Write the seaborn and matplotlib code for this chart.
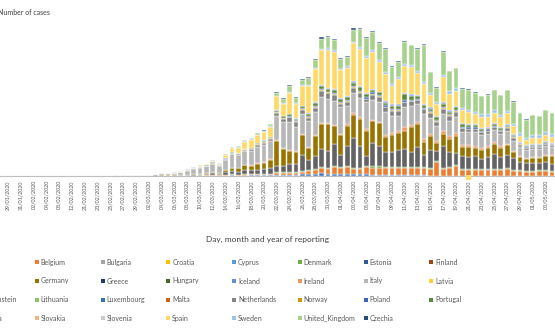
import numpy as np
import pandas as pd
import matplotlib
matplotlib.use("Agg")
import matplotlib.pyplot as plt
from matplotlib.patches import Rectangle
import seaborn as sns

# ---------------- data ----------------
early_dates = ["28/01/2020", "29/01/2020", "30/01/2020", "31/01/2020", "01/02/2020",
               "02/02/2020", "03/02/2020", "04/02/2020", "06/02/2020", "08/02/2020",
               "10/02/2020", "12/02/2020", "17/02/2020", "21/02/2020", "22/02/2020",
               "23/02/2020", "24/02/2020", "25/02/2020", "26/02/2020", "27/02/2020",
               "28/02/2020", "29/02/2020"]
main_dates = list(pd.date_range("2020-03-01", "2020-05-04").strftime("%d/%m/%Y"))

# early period (28/01 .. 29/02), cases
italy_early = [0, 0, 0, 2, 0, 0, 0, 0, 0, 0, 0, 0, 0, 17, 42, 93, 74, 93, 131, 202, 233, 240]
germany_early = [1, 3, 0, 1, 1, 2, 2, 2, 1, 0, 2, 0, 0, 0, 0, 0, 0, 0, 4, 20, 26, 57]
france_early = [0, 0, 1, 0, 0, 0, 0, 0, 0, 5, 0, 0, 0, 0, 0, 0, 0, 2, 2, 4, 20, 43]
spain_early = [0, 0, 0, 0, 1, 0, 0, 0, 0, 1, 0, 0, 0, 0, 0, 0, 0, 2, 6, 7, 12, 32]

# 01/03 .. 04/05, cases
austria = [0, 5, 5, 10, 10, 15, 25, 25, 50, 50, 80, 75, 75, 100, 150, 125, 125, 250, 250, 250,
           250, 375, 375, 375, 375, 500, 500, 500, 750, 500, 500, 500, 500, 500, 500, 500, 375, 375, 250, 250,
           250, 250, 250, 250, 200, 125, 125, 125, 125, 125, 100, 100, 80, 80, 80, 80, 75, 75, 75, 50,
           50, 50, 50, 50, 50]
belgium = [0, 0, 2, 5, 10, 20, 30, 25, 40, 60, 50, 80, 60, 170, 200, 150, 250, 250, 250, 250,
           250, 500, 500, 500, 500, 625, 750, 1000, 1250, 1250, 1750, 1500, 1750, 1250, 1250, 1750, 1750, 1750, 1750, 1750,
           1750, 1750, 1750, 1750, 1750, 1750, 3500, 1750, 2000, 2500, 1500, 1500, 1500, 1500, 1500, 1500, 1500, 1750, 1250, 1250,
           1000, 1000, 1250, 1250, 1000]
denmark = [1, 2, 5, 5, 10, 10, 15, 20, 30, 90, 200, 100, 100, 60, 30, 60, 80, 100, 100, 100,
           100, 100, 100, 100, 150, 150, 150, 200, 150, 200, 250, 300, 300, 300, 300, 300, 300, 300, 300, 300,
           250, 250, 200, 200, 200, 250, 250, 200, 200, 200, 150, 150, 150, 150, 150, 150, 150, 150, 150, 150,
           150, 150, 150, 150, 100]
france = [12, 25, 50, 75, 75, 75, 100, 125, 150, 250, 175, 375, 250, 750, 750, 750, 1000, 1000, 1000, 1250,
          1500, 1625, 1625, 2000, 2000, 4000, 2500, 3250, 4500, 4250, 5500, 3000, 5000, 7500, 5500, 2500, 5750, 5000, 3750, 3750,
          4250, 4500, 3750, 5000, 3000, 4500, 2500, 5500, 3750, 3000, 3250, 3000, 3250, 2500, 3000, 3750, 3000, 3250, 3000, 2000,
          2000, 2000, 1750, 2000, 1750]
germany = [12, 25, 50, 75, 75, 50, 75, 125, 150, 150, 250, 375, 250, 500, 750, 1000, 1250, 1000, 1500, 1500,
           2000, 6250, 4250, 3250, 3000, 5000, 3000, 5000, 6250, 6750, 4500, 5000, 5000, 5750, 6750, 6250, 5500, 5750, 3750, 4250,
           4250, 4500, 6250, 5750, 3250, 3500, 2000, 3000, 3250, 4250, 2250, 2500, 2000, 2250, 2250, 2500, 2250, 2500, 1500, 1250,
           1000, 1250, 1250, 1500, 2000]
ireland = [0, 0, 1, 1, 2, 5, 5, 2, 5, 10, 10, 10, 20, 20, 30, 20, 50, 75, 100, 125,
           100, 125, 125, 200, 200, 250, 250, 300, 300, 250, 300, 300, 400, 400, 400, 350, 400, 350, 400, 500,
           500, 1000, 500, 500, 750, 500, 500, 750, 750, 750, 500, 500, 500, 500, 500, 500, 500, 400, 400, 400,
           300, 250, 250, 300, 250]
italy = [200, 180, 350, 500, 500, 550, 700, 1050, 1380, 1500, 1620, 2000, 1750, 2500, 3500, 3250, 3500, 3500, 4000, 4250,
         4500, 6000, 6500, 7000, 6000, 5000, 6500, 5750, 6500, 6000, 6000, 6750, 4500, 5000, 4750, 6750, 5000, 5000, 5750, 4250,
         3750, 5000, 4750, 4500, 6250, 4000, 3750, 4250, 3750, 4000, 3250, 3250, 3500, 3250, 3000, 3000, 3000, 3250, 2500, 2250,
         2000, 2000, 2000, 2250, 2000]
netherlands = [2, 5, 10, 15, 20, 40, 60, 60, 75, 75, 75, 125, 125, 150, 250, 250, 250, 500, 500, 500,
               500, 750, 750, 1250, 1250, 1000, 750, 1000, 1500, 1500, 1500, 750, 1000, 1250, 1250, 750, 1250, 1250, 1250, 1250,
               1250, 1250, 1250, 1000, 1250, 1250, 1000, 1250, 1250, 1250, 1000, 750, 750, 750, 750, 750, 750, 750, 750, 500,
               500, 500, 500, 500, 500]
norway = [0, 5, 10, 20, 30, 40, 50, 60, 70, 80, 150, 200, 100, 100, 100, 100, 150, 150, 200, 200,
          200, 250, 250, 200, 250, 250, 250, 250, 300, 200, 200, 250, 200, 250, 250, 200, 200, 150, 150, 150,
          150, 100, 100, 100, 100, 100, 100, 100, 100, 100, 80, 80, 80, 70, 70, 60, 60, 50, 50, 50,
          50, 40, 40, 40, 30]
poland = [0, 0, 0, 1, 0, 3, 4, 3, 2, 6, 5, 20, 20, 30, 40, 50, 40, 50, 100, 150,
          100, 100, 150, 150, 200, 200, 250, 250, 250, 200, 250, 250, 250, 300, 350, 450, 400, 300, 350, 350,
          400, 350, 300, 300, 300, 300, 350, 400, 300, 350, 250, 300, 350, 300, 350, 300, 300, 300, 250, 250,
          300, 300, 300, 250, 200]
portugal = [0, 2, 0, 2, 3, 4, 8, 9, 10, 20, 20, 30, 25, 70, 100, 80, 100, 150, 200, 250,
            250, 300, 300, 400, 400, 500, 600, 700, 750, 750, 750, 600, 800, 800, 850, 650, 500, 700, 650, 800,
            800, 1500, 1000, 600, 650, 600, 650, 750, 650, 650, 550, 500, 500, 400, 400, 350, 300, 200, 250, 200,
            200, 200, 250, 200, 200]
romania = [0, 1, 0, 0, 0, 2, 0, 2, 8, 2, 5, 4, 13, 19, 30, 20, 30, 50, 60, 70,
           60, 70, 80, 140, 150, 150, 200, 250, 200, 250, 300, 250, 300, 350, 400, 300, 250, 200, 350, 350,
           400, 350, 300, 350, 300, 350, 300, 350, 400, 300, 300, 350, 300, 300, 300, 250, 250, 250, 250, 200,
           200, 250, 250, 200, 200]
spain = [12, 25, 50, 55, 60, 60, 75, 100, 150, 200, 250, 375, 250, 750, 1000, 1250, 1750, 2000, 2000, 2000,
         2500, 3500, 3000, 5250, 3500, 5000, 6750, 8250, 8750, 9500, 9250, 7000, 7000, 9500, 9250, 8750, 9250, 7500, 6750, 4500,
         6250, 6750, 6750, 5500, 5000, 3000, 3000, 6250, 4000, 3750, 3250, 3000, 2500, 2750, 2500, 2500, 2500, 2750, 2000, 1500,
         1250, 1500, 1500, 1500, 1500]
sweden = [0, 5, 5, 10, 20, 30, 40, 50, 70, 100, 100, 150, 100, 150, 100, 100, 100, 100, 100, 150,
          150, 150, 150, 200, 250, 250, 250, 300, 400, 400, 400, 400, 400, 450, 500, 500, 600, 500, 500, 600,
          600, 550, 500, 500, 500, 500, 500, 600, 700, 700, 600, 600, 600, 700, 700, 700, 650, 600, 700, 700,
          600, 650, 600, 700, 700]
united_kingdom = [5, 10, 10, 20, 30, 40, 50, 60, 60, 70, 80, 120, 100, 200, 250, 250, 250, 250, 300, 300,
                  500, 750, 1000, 1375, 1250, 1250, 1750, 2000, 2500, 2750, 2500, 2500, 2250, 3000, 4500, 4500, 4500, 4250, 5750, 4250,
                  3750, 5500, 5000, 5500, 9250, 5250, 3500, 5750, 5000, 5000, 4750, 5000, 4750, 4500, 4750, 5000, 5000, 5250, 5500, 5000,
                  4500, 5000, 4750, 5500, 5250]
czechia = [0, 3, 0, 2, 3, 4, 7, 12, 5, 10, 20, 40, 50, 50, 70, 100, 100, 100, 120, 150,
           150, 200, 250, 250, 250, 250, 300, 300, 300, 300, 250, 250, 300, 300, 300, 250, 200, 200, 200, 200,
           200, 150, 150, 150, 150, 150, 100, 100, 100, 100, 100, 100, 100, 100, 100, 80, 80, 80, 80, 60,
           60, 60, 60, 50, 50]

countries = ["Austria", "Belgium", "Bulgaria", "Croatia", "Cyprus", "Denmark", "Estonia", "Finland",
             "France", "Germany", "Greece", "Hungary", "Iceland", "Ireland", "Italy", "Latvia",
             "Liechtenstein", "Lithuania", "Luxembourg", "Malta", "Netherlands", "Norway", "Poland", "Portugal",
             "Romania", "Slovakia", "Slovenia", "Spain", "Sweden", "United_Kingdom", "Czechia"]
colors = ["#4472C4", "#ED7D31", "#A5A5A5", "#FFC000", "#5B9BD5", "#70AD47", "#2E5C9A", "#9E480E",
          "#636363", "#997300", "#1F3864", "#43682B", "#698ED0", "#F1975A", "#B7B7B7", "#FFCD33",
          "#7CAFDD", "#8CC168", "#2E75B6", "#D26012", "#848484", "#CC9A00", "#3F64B5", "#5A8A39",
          "#8FAADC", "#F4B183", "#C9C9C9", "#FFD966", "#9DC3E6", "#A9D18E", "#1F4E79"]

# ---------------- long table ----------------
dates = early_dates + main_dates
n_early = len(early_dates)
zero_early = [0] * n_early
series = {
    "Austria": zero_early + austria,
    "Belgium": zero_early + belgium,
    "Denmark": zero_early + denmark,
    "France": france_early + france,
    "Germany": germany_early + germany,
    "Ireland": zero_early + ireland,
    "Italy": italy_early + italy,
    "Netherlands": zero_early + netherlands,
    "Norway": zero_early + norway,
    "Poland": zero_early + poland,
    "Portugal": zero_early + portugal,
    "Romania": zero_early + romania,
    "Spain": spain_early + spain,
    "Sweden": zero_early + sweden,
    "United_Kingdom": zero_early + united_kingdom,
    "Czechia": zero_early + czechia,
}
rows = []
for c, vals in series.items():
    assert len(vals) == len(dates), (c, len(vals))
    for i, v in enumerate(vals):
        rows.append((i, c, v))
df = pd.DataFrame(rows, columns=["idx", "country", "cases"])
palette = dict(zip(countries, colors))
present = [c for c in countries if c in series]

# ---------------- figure ----------------
W, H = 555, 333
sns.set_theme(style="white")
plt.rcParams["font.family"] = ["Lato", "DejaVu Sans"]
fig = plt.figure(figsize=(W / 100, H / 100), dpi=100)
base_y = 176
top_y = 20
ax = fig.add_axes([0, 1 - base_y / H, 1, (base_y - top_y) / H])

sns.histplot(data=df, x="idx", weights="cases", hue="country",
             hue_order=present[::-1], palette=palette, multiple="stack",
             discrete=True, shrink=0.74, edgecolor="white", linewidth=0.3,
             alpha=1, legend=False, ax=ax)

ax.set_xlim(-0.25, 86.47)
ax.set_ylim(0, 39000)
ax.set_yticks([])
ax.set_ylabel("")
ax.set_xlabel("")
for s in ["left", "right", "top"]:
    ax.spines[s].set_visible(False)
ax.spines["bottom"].set_color("#BFBFBF")
ax.spines["bottom"].set_linewidth(0.8)
tick_idx = list(range(1, len(dates), 2))
ax.set_xticks(tick_idx)
ax.set_xticklabels([dates[i] for i in tick_idx], rotation=90, fontsize=3.9, color="#595959")
ax.tick_params(axis="x", length=0, pad=3)

# small yellow highlight just under the axis (as in the reference)
fig.add_artist(Rectangle((466 / W, 1 - 180 / H), 5 / W, 5 / H, transform=fig.transFigure,
                         facecolor="#FFD966", edgecolor="none", zorder=5))

fig.text(-0.004, 1 - 12.3 / H, "Number of cases", fontsize=5, color="#404040", va="center", ha="left")
fig.text(267 / W, 1 - 239.5 / H, "Day, month and year of reporting", fontsize=6, color="#404040",
         ha="center", va="center")

# legend (8 columns)
col_x0, col_dx = -30.7, 65.7
row_y0, row_dy = 262.3, 18.7
for i, (c, col) in enumerate(zip(countries, colors)):
    cx = col_x0 + (i % 8) * col_dx
    cy = row_y0 + (i // 8) * row_dy
    fig.add_artist(Rectangle((cx / W, 1 - (cy + 2) / H), 4 / W, 4 / H,
                             transform=fig.transFigure, facecolor=col, edgecolor="none"))
    fig.text((cx + 5.8) / W, 1 - cy / H, c, fontsize=5, color="#595959", ha="left", va="center")

fig.savefig("out.png", dpi=100)
